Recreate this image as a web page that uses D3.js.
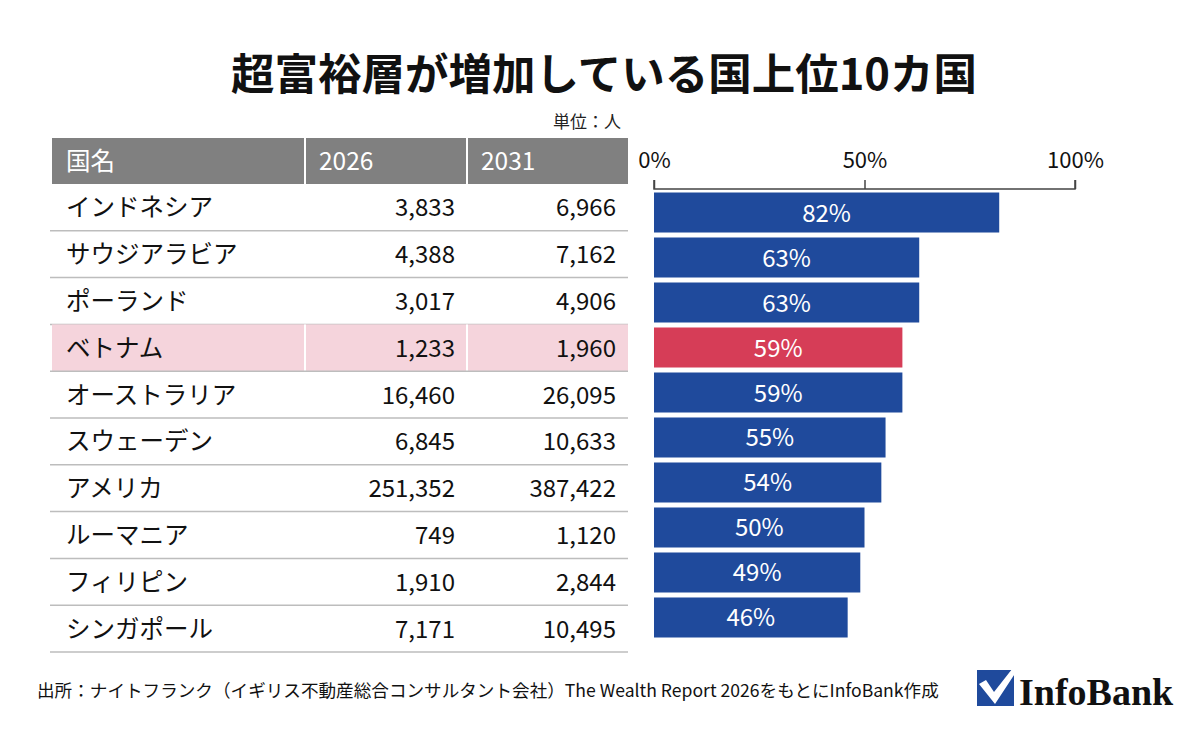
<!DOCTYPE html>
<html><head><meta charset="utf-8">
<script src="https://cdn.jsdelivr.net/npm/d3@7"></script>
<style>
body{margin:0;background:#fff;}
svg{display:block;font-family:"Noto Sans CJK JP","Noto Sans",sans-serif;}
</style></head>
<body><svg id="c" width="1200" height="754"></svg>
<script>
const countries = ["インドネシア","サウジアラビア","ポーランド","ベトナム","オーストラリア","スウェーデン","アメリカ","ルーマニア","フィリピン","シンガポール"];
const v2026 = [3833,4388,3017,1233,16460,6845,251352,749,1910,7171];
const v2031 = [6966,7162,4906,1960,26095,10633,387422,1120,2844,10495];
const growth = [82,63,63,59,59,55,54,50,49,46];
const highlight = "ベトナム";
const headers = ["国名","2026","2031"];
const pctTicks = [0,50,100];

const svg = d3.select("#c");
const fmt = d3.format(",");

svg.append("text").attr("x",604).attr("y",90).attr("text-anchor","middle")
  .attr("font-size",43.5).attr("font-weight","bold").attr("fill","#111")
  .text("超富裕層が増加している国上位10カ国");

svg.append("text").attr("x",621).attr("y",128).attr("text-anchor","end")
  .attr("font-size",17).attr("fill","#222").text("単位：人");

// Table
const tx0 = 52, tx1 = 628, hy0 = 138, hy1 = 184;
const colX = [52,305,467,628];
const y = d3.scaleBand().domain(countries).range([hy1,652]).paddingInner(0);

svg.append("rect").attr("x",tx0).attr("y",hy0).attr("width",tx1-tx0).attr("height",hy1-hy0).attr("fill","#808080");
headers.forEach((h,i)=>{
  svg.append("text").attr("x",colX[i]+14).attr("y",(hy0+hy1)/2+9)
    .attr("font-size",24.5).attr("fill","#fff").text(h);
});
[305,467].forEach(x=>svg.append("line").attr("x1",x).attr("x2",x).attr("y1",hy0).attr("y2",hy1).attr("stroke","#fff").attr("stroke-width",2));

const rows = svg.append("g").selectAll("g").data(countries).join("g");
rows.filter(d=>d===highlight).append("rect").attr("x",tx0).attr("y",d=>y(d)).attr("width",tx1-tx0).attr("height",y.bandwidth()).attr("fill","#f5d4dc");
rows.filter(d=>d===highlight).each(function(d){
  [305,467].forEach(x=>d3.select(this).append("line").attr("x1",x).attr("x2",x).attr("y1",y(d)).attr("y2",y(d)+y.bandwidth()).attr("stroke","#fff").attr("stroke-width",2));
});
rows.append("line").attr("x1",tx0-2).attr("x2",tx1).attr("y1",d=>y(d)+y.bandwidth()).attr("y2",d=>y(d)+y.bandwidth()).attr("stroke","#bdbdbd").attr("stroke-width",1.5);
rows.append("text").attr("x",66).attr("y",d=>y(d)+y.bandwidth()/2+9).attr("font-size",24.5).attr("fill","#111").text(d=>d);
rows.append("text").attr("x",455).attr("y",d=>y(d)+y.bandwidth()/2+9).attr("text-anchor","end").attr("font-size",24).attr("fill","#111").text((d,i)=>fmt(v2026[i]));
rows.append("text").attr("x",616).attr("y",d=>y(d)+y.bandwidth()/2+9).attr("text-anchor","end").attr("font-size",24).attr("fill","#111").text((d,i)=>fmt(v2031[i]));

// Bars
const x = d3.scaleLinear().domain([0,100]).range([654,1075]);
const yb = d3.scaleBand().domain(countries).range([190,640]).paddingInner(0.111).paddingOuter(0.0556);
const axisY = 189;
const ax = svg.append("g").attr("transform",`translate(0,${axisY})`)
  .call(d3.axisTop(x).tickValues(pctTicks).tickSize(9).tickPadding(12).tickFormat(d=>d+"%"));
ax.select(".domain").attr("stroke","#444").attr("stroke-width",1.5).attr("d",`M${x(0)},-9V0H${x(100)}V-9`);
ax.selectAll(".tick line").attr("stroke","#444").attr("stroke-width",1.5);
ax.selectAll(".tick text").attr("font-size",22).attr("fill","#111").attr("font-family","'Noto Sans CJK JP',sans-serif");

const bars = svg.append("g").selectAll("g").data(countries).join("g");
bars.append("rect").attr("x",x(0)).attr("y",d=>yb(d))
  .attr("width",(d,i)=>x(growth[i])-x(0)).attr("height",yb.bandwidth())
  .attr("fill",d=>d===highlight?"#d63d57":"#1f4a9c");
bars.append("text").attr("x",(d,i)=>(x(0)+x(growth[i]))/2).attr("y",d=>yb(d)+yb.bandwidth()/2+9)
  .attr("text-anchor","middle").attr("font-size",24).attr("fill","#fff").text((d,i)=>growth[i]+"%");

// Footer
svg.append("text").attr("x",37).attr("y",697).attr("font-size",17.6).attr("fill","#111")
  .text("出所：ナイトフランク（イギリス不動産総合コンサルタント会社）The Wealth Report 2026をもとにInfoBank作成");

// Logo
const lg = svg.append("g");
lg.append("rect").attr("x",977).attr("y",670).attr("width",37).attr("height",36).attr("fill","#1f4a9c");
lg.append("path").attr("d","M979,684 L986,680 L994,692 L1016,664 L1020,666 L995,704 Z").attr("fill","#fff");
lg.append("text").attr("x",1019).attr("y",705).attr("font-family","'Liberation Serif','DejaVu Serif',serif")
  .attr("font-weight","bold").attr("font-size",38).attr("fill","#111").text("InfoBank");
</script></body></html>
